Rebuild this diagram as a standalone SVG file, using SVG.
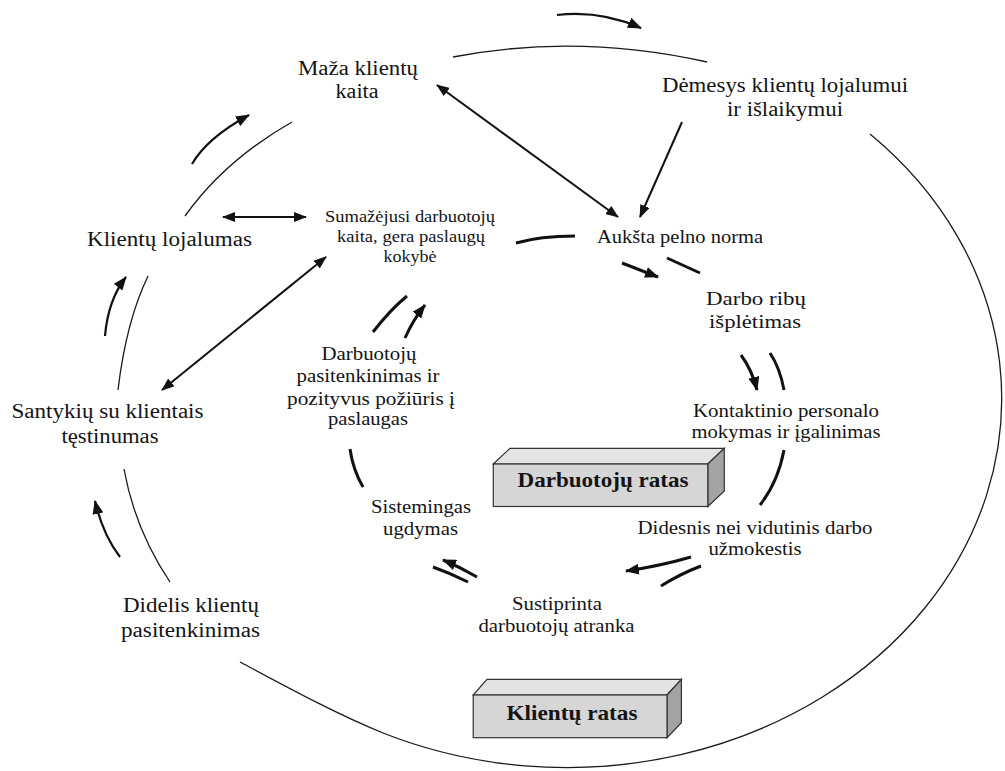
<svg xmlns="http://www.w3.org/2000/svg" width="1005" height="771" viewBox="0 0 1005 771">
  <style>
    text { font-family: "Liberation Serif", "Times New Roman", serif; fill: #141414; text-anchor: middle; }
    .n20 { font-size: 20px; }
    .n19 { font-size: 19px; }
    .n16 { font-size: 16px; }
    .lbl { font-size: 21px; font-weight: bold; }
    .thin { fill: none; stroke: #1a1a1a; stroke-width: 1.3; }
    .outer { fill: none; stroke: #111; stroke-width: 2.2; }
    .inner { fill: none; stroke: #111; stroke-width: 3; }
    .link { fill: none; stroke: #111; stroke-width: 2; }
    .front { fill: #d6d6d6; stroke: #333; stroke-width: 1.2; }
    .top { fill: #e4e4e4; stroke: #333; stroke-width: 1.2; }
    .side { fill: #a3a3a3; stroke: #333; stroke-width: 1.2; }
  </style>
  <defs>
    <marker id="head" viewBox="0 0 14 11" refX="13" refY="5.5" markerWidth="14" markerHeight="11" markerUnits="userSpaceOnUse" orient="auto-start-reverse">
      <path d="M0,0 L14,5.5 L0,11 z" fill="#111"/>
    </marker>
    <marker id="headS" viewBox="0 0 13 10" refX="12" refY="5" markerWidth="13" markerHeight="10" markerUnits="userSpaceOnUse" orient="auto-start-reverse">
      <path d="M0,0 L13,5 L0,10 z" fill="#111"/>
    </marker>
  </defs>
  <rect width="1005" height="771" fill="#fff"/>

  <g id="connectors">
    <!-- customer circle: outer ring segments -->
    <path class="thin" d="M240,662 C285,686 336,714 383,733 A435,369 0 0 0 870,134"/>
    <path class="thin" d="M453,57 Q577,33 707,62"/>
    <path class="thin" d="M185,216 Q225,160 292,122"/>
    <path class="thin" d="M118,390 Q126,322 148,276"/>
    <path class="thin" d="M124,469 Q135,530 170,582"/>
    <!-- customer circle: direction arrows -->
    <path class="outer" marker-end="url(#head)" d="M557,15 Q600,10 641,28"/>
    <path class="outer" marker-end="url(#head)" d="M192,164 Q207,138 249,115"/>
    <path class="outer" marker-end="url(#head)" d="M105,336 Q108,300 126,277"/>
    <path class="outer" marker-end="url(#head)" d="M120,557 Q103,535 95,501"/>

    <!-- employee circle -->
    <path class="inner" d="M516,243 Q540,236 575,236"/>
    <path class="inner" marker-end="url(#head)" d="M622,263 L658,277"/>
    <path class="inner" d="M667,258 L700,273"/>
    <path class="inner" marker-end="url(#head)" d="M741,355 Q752,370 757,390"/>
    <path class="inner" d="M770,353 Q780,368 784,390"/>
    <path class="inner" d="M784,450 Q778,482 760,505"/>
    <path class="inner" marker-end="url(#head)" d="M691,557 Q660,566 626,571"/>
    <path class="inner" d="M701,566 Q680,574 661,586"/>
    <path class="inner" marker-end="url(#head)" d="M477,577 Q460,567 443,560"/>
    <path class="inner" d="M433,567 Q450,573 468,582"/>
    <path class="inner" d="M363,487 Q353,470 350,449"/>
    <path class="inner" d="M373,332 Q390,310 407,296"/>
    <path class="inner" marker-end="url(#head)" d="M405,338 Q413,320 425,305"/>

    <!-- links between the circles -->
    <path class="link" marker-start="url(#headS)" marker-end="url(#headS)" d="M437,85 L618,217"/>
    <path class="link" marker-end="url(#headS)" d="M682,122 L640,217"/>
    <path class="link" marker-start="url(#headS)" marker-end="url(#headS)" d="M223,217 L306,217"/>
    <path class="link" marker-start="url(#headS)" marker-end="url(#headS)" d="M162,390 L326,257"/>
  </g>

  <g id="node-maza-kaita" class="n20">
    <text x="358" y="75" textLength="120" lengthAdjust="spacingAndGlyphs">Maža klientų</text>
    <text x="357" y="97.5" textLength="43" lengthAdjust="spacingAndGlyphs">kaita</text>
  </g>
  <g id="node-demesys" class="n20">
    <text x="785" y="92" textLength="246" lengthAdjust="spacingAndGlyphs">Dėmesys klientų lojalumui</text>
    <text x="785" y="115.5" textLength="116" lengthAdjust="spacingAndGlyphs">ir išlaikymui</text>
  </g>
  <g id="node-lojalumas" class="n20">
    <text x="169.5" y="246" textLength="165" lengthAdjust="spacingAndGlyphs">Klientų lojalumas</text>
  </g>
  <g id="node-sumazejusi" class="n16">
    <text x="410" y="222" textLength="170" lengthAdjust="spacingAndGlyphs">Sumažėjusi darbuotojų</text>
    <text x="411" y="242" textLength="148" lengthAdjust="spacingAndGlyphs">kaita, gera paslaugų</text>
    <text x="410" y="261.5" textLength="53" lengthAdjust="spacingAndGlyphs">kokybė</text>
  </g>
  <g id="node-pelno-norma" class="n19">
    <text x="680" y="243" textLength="166" lengthAdjust="spacingAndGlyphs">Aukšta pelno norma</text>
  </g>
  <g id="node-darbo-ribu" class="n19">
    <text x="756" y="305" textLength="100" lengthAdjust="spacingAndGlyphs">Darbo ribų</text>
    <text x="755" y="328" textLength="92" lengthAdjust="spacingAndGlyphs">išplėtimas</text>
  </g>
  <g id="node-darbuotoju-pasitenkinimas" class="n19">
    <text x="369" y="360" textLength="95" lengthAdjust="spacingAndGlyphs">Darbuotojų</text>
    <text x="368" y="382" textLength="143" lengthAdjust="spacingAndGlyphs">pasitenkinimas ir</text>
    <text x="371" y="405" textLength="168" lengthAdjust="spacingAndGlyphs">pozityvus požiūris į</text>
    <text x="368" y="425" textLength="80" lengthAdjust="spacingAndGlyphs">paslaugas</text>
  </g>
  <g id="node-santykiu" class="n20">
    <text x="107.5" y="418" textLength="192" lengthAdjust="spacingAndGlyphs">Santykių su klientais</text>
    <text x="110" y="443" textLength="97" lengthAdjust="spacingAndGlyphs">tęstinumas</text>
  </g>
  <g id="node-kontaktinio" class="n19">
    <text x="786" y="417" textLength="186" lengthAdjust="spacingAndGlyphs">Kontaktinio personalo</text>
    <text x="786" y="438" textLength="189" lengthAdjust="spacingAndGlyphs">mokymas ir įgalinimas</text>
  </g>
  <g id="node-didesnis" class="n19">
    <text x="755" y="534" textLength="235" lengthAdjust="spacingAndGlyphs">Didesnis nei vidutinis darbo</text>
    <text x="755" y="555" textLength="93" lengthAdjust="spacingAndGlyphs">užmokestis</text>
  </g>
  <g id="node-sistemingas" class="n19">
    <text x="421" y="513" textLength="100" lengthAdjust="spacingAndGlyphs">Sistemingas</text>
    <text x="420.5" y="535" textLength="75" lengthAdjust="spacingAndGlyphs">ugdymas</text>
  </g>
  <g id="node-sustiprinta" class="n19">
    <text x="557" y="610" textLength="90" lengthAdjust="spacingAndGlyphs">Sustiprinta</text>
    <text x="556.5" y="632" textLength="156" lengthAdjust="spacingAndGlyphs">darbuotojų atranka</text>
  </g>
  <g id="node-didelis" class="n20">
    <text x="191" y="612" textLength="136" lengthAdjust="spacingAndGlyphs">Didelis klientų</text>
    <text x="190.5" y="637" textLength="139" lengthAdjust="spacingAndGlyphs">pasitenkinimas</text>
  </g>

  <!-- 3D label blocks -->
  <g id="block-darbuotoju-ratas">
    <polygon class="top" points="493.3,464 510,448.3 724.3,448.3 707.8,464"/>
    <polygon class="side" points="707.8,464 724.3,448.3 724.3,491 707.8,506.5"/>
    <rect class="front" x="493.3" y="464" width="214.5" height="42.5"/>
    <text class="lbl" x="603" y="487" textLength="171" lengthAdjust="spacingAndGlyphs">Darbuotojų ratas</text>
  </g>
  <g id="block-klientu-ratas">
    <polygon class="top" points="473.2,695 487,679.3 681.4,679.3 667,695"/>
    <polygon class="side" points="667,695 681.4,679.3 681.4,722.7 667,737.7"/>
    <rect class="front" x="473.2" y="695" width="193.8" height="42.7"/>
    <text class="lbl" x="572" y="720" textLength="131" lengthAdjust="spacingAndGlyphs">Klientų ratas</text>
  </g>
</svg>
